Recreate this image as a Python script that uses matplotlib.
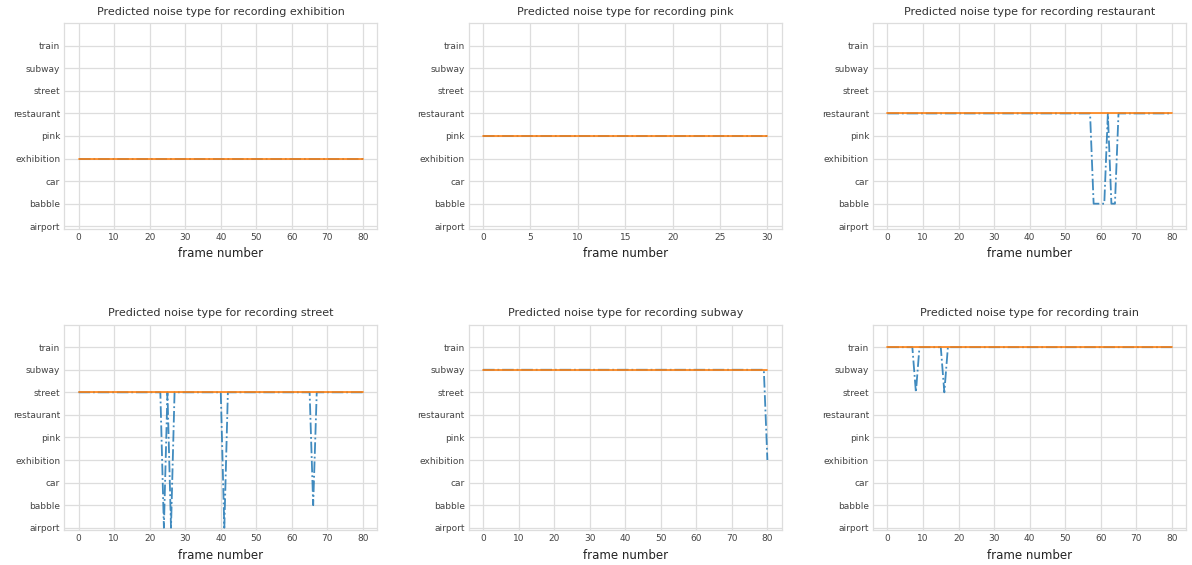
import numpy as np
import matplotlib
matplotlib.use("Agg")
import matplotlib.pyplot as plt

noise_types = ['airport', 'babble', 'car', 'exhibition', 'pink',
               'restaurant', 'street', 'subway', 'train']
recordings = ['exhibition', 'pink', 'restaurant', 'street', 'subway', 'train']
n_frames = {'exhibition': 81, 'pink': 31, 'restaurant': 81,
            'street': 81, 'subway': 81, 'train': 81}

# frames where the prediction differs from the true label: {frame: predicted class}
wrong_restaurant = {58: 1, 59: 1, 60: 1, 61: 1, 63: 1, 64: 1}
wrong_street = {24: 0, 26: 0, 41: 0, 66: 1}
wrong_subway = {80: 3}
wrong_train = {8: 6, 16: 6}
wrong_frames = {'exhibition': {}, 'pink': {}, 'restaurant': wrong_restaurant,
                'street': wrong_street, 'subway': wrong_subway, 'train': wrong_train}

plt.style.use('seaborn-v0_8-whitegrid')
plt.rcParams['font.family'] = ['DejaVu Sans']

fig, axes = plt.subplots(2, 3, figsize=(11.92, 5.65), dpi=100)
fig.subplots_adjust(left=0.054, right=0.995, top=0.959, bottom=0.062,
                    wspace=0.293, hspace=0.468)

for ax, rec in zip(axes.flat, recordings):
    true_cls = noise_types.index(rec)
    frames = np.arange(n_frames[rec])
    truth = np.full(len(frames), true_cls)
    pred = truth.copy()
    for f, c in wrong_frames[rec].items():
        pred[f] = c
    ax.plot(frames, pred, '-.', color='#1f77b4', lw=1.3, alpha=0.85)
    ax.plot(frames, truth, '-', color='#ff7f0e', lw=1.3, alpha=0.9)
    ax.set_yticks(range(len(noise_types)))
    ax.set_yticklabels(noise_types)
    ax.set_ylim(-0.1, 9.0)
    ax.set_title('Predicted noise type for recording ' + rec, fontsize=8, color='#333333')
    ax.set_xlabel('frame number', fontsize=8.5, color='#222222', labelpad=4)
    ax.tick_params(labelsize=6.5, colors='#444444', pad=3)
    ax.grid(True, color='#dddddd', lw=0.9)
    for s in ax.spines.values():
        s.set_visible(True)
        s.set_color('#dddddd')
        s.set_linewidth(0.9)

plt.savefig('out.png', dpi=100)
